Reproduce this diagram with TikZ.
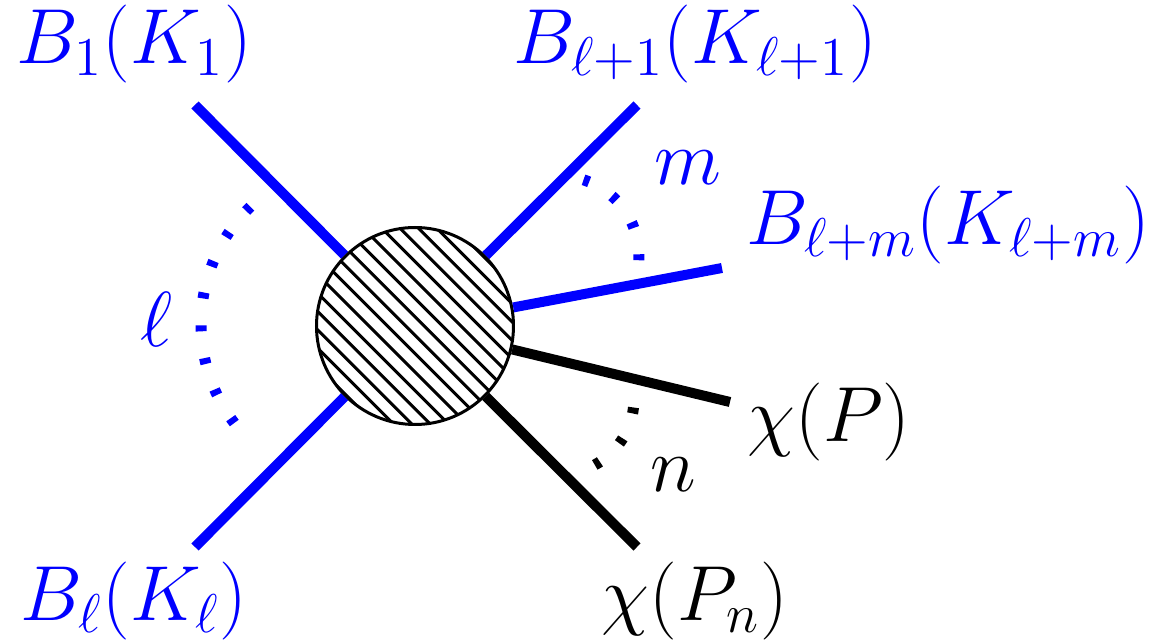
\RequirePackage{fix-cm}
\documentclass[tikz,border=0pt]{standalone}
\usepackage{amsmath}
\usepackage{tikz}
\usetikzlibrary{calc}

\begin{document}
\begin{tikzpicture}[
    font=\fontsize{22.2}{26}\selectfont,
    leg/.style={line width=1mm},
    dots/.style={line width=1.1mm, dash pattern=on 0.6mm off 2.7mm},
    hatch/.style={line width=0.3mm},
    lab/.style={anchor=base, inner sep=0pt}
  ]
  \useasboundingbox (-4.15,-3.15) rectangle (7.39,3.26);

  % --- ends of the legs ---------------------------------------------------
  \coordinate (b1)   at (-2.20, 2.21);
  \coordinate (bl)   at (-2.20,-2.21);
  \coordinate (bl1)  at ( 2.22, 2.21);
  \coordinate (blm)  at ( 3.07, 0.58);
  \coordinate (chi)  at ( 3.15,-0.76);
  \coordinate (chin) at ( 2.22,-2.21);

  % --- hatched blob ---------------------------------------------------------
  \node[circle, draw, fill=white, line width=0.3mm, minimum size=19.7mm,
        inner sep=0pt,
        path picture={
          \foreach \k in {-8,...,7}
            \draw[hatch] ([shift={({\k*0.092-1.154},{\k*0.092+1.246})}]
                          path picture bounding box.center) -- ++(2.4,-2.4);
        }] (blob) at (0,0) {};

  % --- legs -----------------------------------------------------------------
  \draw[leg, blue] (blob) -- (b1);
  \draw[leg, blue] (blob) -- (bl);
  \draw[leg, blue] (blob) -- (bl1);
  \draw[leg, blue] (blob) -- (blm);
  \draw[leg] (blob) -- (chi);
  \draw[leg] (blob) -- (chin);

  % --- dotted arcs ----------------------------------------------------------
  \draw[dots, blue] ([shift={(134.35:1.64)}]-0.50,0.02)
        arc[start angle=134.35, end angle=217.15, radius=1.64];
  \draw[dots, blue] ([shift={(72.15:0.8)}]1.44,0.70)
        arc[start angle=72.15, end angle=-3.05, radius=0.8];
  \draw[dots] ([shift={(-6.5:0.75)}]1.44,-0.73)
        arc[start angle=-6.5, end angle=-61.5, radius=0.75];

  % --- labels ---------------------------------------------------------------
  \node[lab, blue] (lb1)  at (-2.81, 2.627) {$B_1(K_1)$};
  \node[lab, blue] (lbl1) at ( 2.80, 2.627) {$B_{\ell+1}(K_{\ell+1})$};
  \node[lab, blue] (lblm) at ( 5.33, 0.81)  {$B_{\ell+m}(K_{\ell+m})$};
  \node[lab, blue] (lbl)  at (-2.81,-2.95)  {$B_\ell(K_\ell)$};
  \node[lab]       (lchi) at ( 4.14,-1.157) {$\chi(P)$};
  \node[lab]       (lchin) at ( 2.80,-2.95) {$\chi(P_n)$};
  \node[lab, blue] (lell) at (-2.58,-0.207) {$\ell$};
  \node[lab, blue] (lm)   at ( 2.73, 1.41)  {$m$};
  \node[lab]       (ln)   at ( 2.58,-1.657) {$n$};
\end{tikzpicture}
\end{document}
